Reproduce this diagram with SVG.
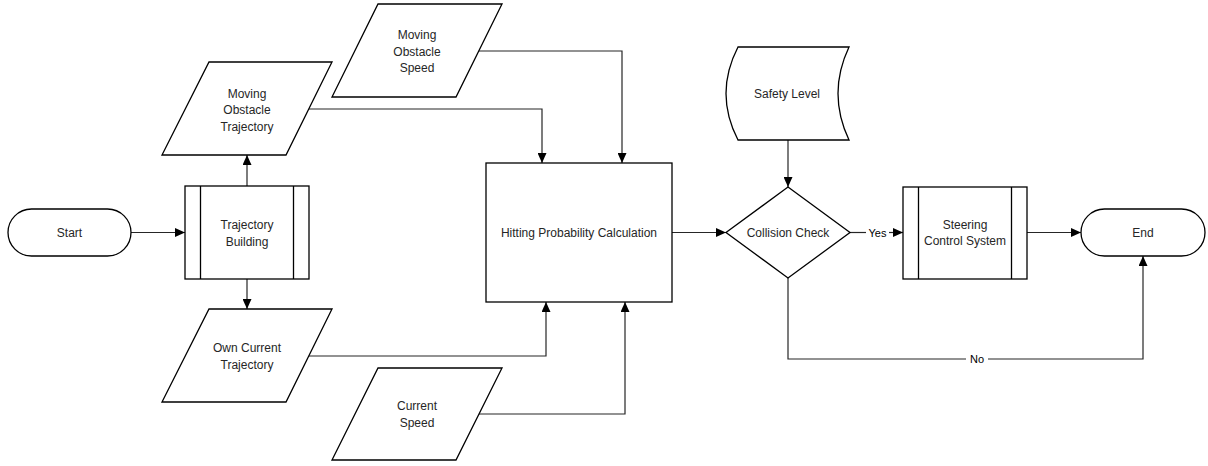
<svg xmlns="http://www.w3.org/2000/svg" width="1208" height="466" viewBox="0 0 1208 466">
  <style>
    .shape { fill: #ffffff; stroke: #000000; stroke-width: 1.3; }
    .inner { fill: none; stroke: #000000; stroke-width: 1.3; }
    .conn { fill: none; stroke: #262626; stroke-width: 1.2; }
    .arrow { marker-end: url(#head); }
    text { font-family: "Liberation Sans", Arial, sans-serif; font-size: 12px; fill: #262626; text-anchor: middle; }
    .lbl { font-size: 11px; fill: #000000; }
  </style>
  <defs>
    <marker id="head" markerUnits="userSpaceOnUse" markerWidth="10" markerHeight="9" refX="10" refY="4.5" orient="auto">
      <path d="M0,0 L10,4.5 L0,9 z" fill="#000000"/>
    </marker>
  </defs>
  <rect width="1208" height="466" fill="#ffffff"/>

  <!-- connectors -->
  <g id="connectors">
    <path class="conn arrow" d="M131,232.5 H185"/>
    <path class="conn arrow" d="M247,186 V155"/>
    <path class="conn arrow" d="M247,279 V309"/>
    <path class="conn arrow" d="M309,109 H542 V163"/>
    <path class="conn arrow" d="M479,51 H622 V163"/>
    <path class="conn arrow" d="M309,356 H546 V302"/>
    <path class="conn arrow" d="M479,414 H625 V302"/>
    <path class="conn arrow" d="M672,232.5 H726"/>
    <path class="conn arrow" d="M788,140 V187"/>
    <path class="conn" d="M850,232.5 H866"/>
    <path class="conn arrow" d="M889,232.5 H903"/>
    <text class="lbl" x="877.5" y="236.5">Yes</text>
    <path class="conn arrow" d="M1027,232.5 H1081"/>
    <path class="conn" d="M788,278 V359 H966"/>
    <path class="conn arrow" d="M988,359 H1143 V256"/>
    <text class="lbl" x="977" y="363">No</text>
  </g>

  <g id="start">
    <rect class="shape" x="8" y="209" width="123" height="47" rx="23.5" ry="23.5"/>
    <text x="69.5" y="236.5">Start</text>
  </g>

  <g id="trajectory-building">
    <rect class="shape" x="185" y="186" width="124" height="93"/>
    <line class="inner" x1="200.5" y1="186" x2="200.5" y2="279"/>
    <line class="inner" x1="293.5" y1="186" x2="293.5" y2="279"/>
    <text x="247" y="229">Trajectory</text>
    <text x="247" y="245.5">Building</text>
  </g>

  <g id="moving-obstacle-trajectory">
    <polygon class="shape" points="209,62 332,62 286,155 162,155"/>
    <text x="247" y="97.5">Moving</text>
    <text x="247" y="114">Obstacle</text>
    <text x="247" y="130.5">Trajectory</text>
  </g>

  <g id="moving-obstacle-speed">
    <polygon class="shape" points="378,4 502,4 456,97 332,97"/>
    <text x="417" y="39">Moving</text>
    <text x="417" y="55.5">Obstacle</text>
    <text x="417" y="72">Speed</text>
  </g>

  <g id="own-current-trajectory">
    <polygon class="shape" points="209,309 332,309 286,402 162,402"/>
    <text x="247" y="352">Own Current</text>
    <text x="247" y="369">Trajectory</text>
  </g>

  <g id="current-speed">
    <polygon class="shape" points="378,368 502,368 456,460 332,460"/>
    <text x="417" y="410">Current</text>
    <text x="417" y="427">Speed</text>
  </g>

  <g id="hitting-probability">
    <rect class="shape" x="486" y="163" width="186" height="139"/>
    <text x="579" y="236.5">Hitting Probability Calculation</text>
  </g>

  <g id="safety-level">
    <path class="shape" d="M738,47 H849 Q827,93.5 849,140 H738 Q714,93.5 738,47 z"/>
    <text x="787" y="98">Safety Level</text>
  </g>

  <g id="collision-check">
    <polygon class="shape" points="788,187 850,232.5 788,278 726,232.5"/>
    <text x="788" y="236.5">Collision Check</text>
  </g>

  <g id="steering-control">
    <rect class="shape" x="903" y="187" width="124" height="92"/>
    <line class="inner" x1="918.5" y1="187" x2="918.5" y2="279"/>
    <line class="inner" x1="1011.5" y1="187" x2="1011.5" y2="279"/>
    <text x="965" y="229">Steering</text>
    <text x="965" y="245">Control System</text>
  </g>

  <g id="end">
    <rect class="shape" x="1081" y="209" width="124" height="47" rx="23.5" ry="23.5"/>
    <text x="1143" y="236.5">End</text>
  </g>
</svg>
